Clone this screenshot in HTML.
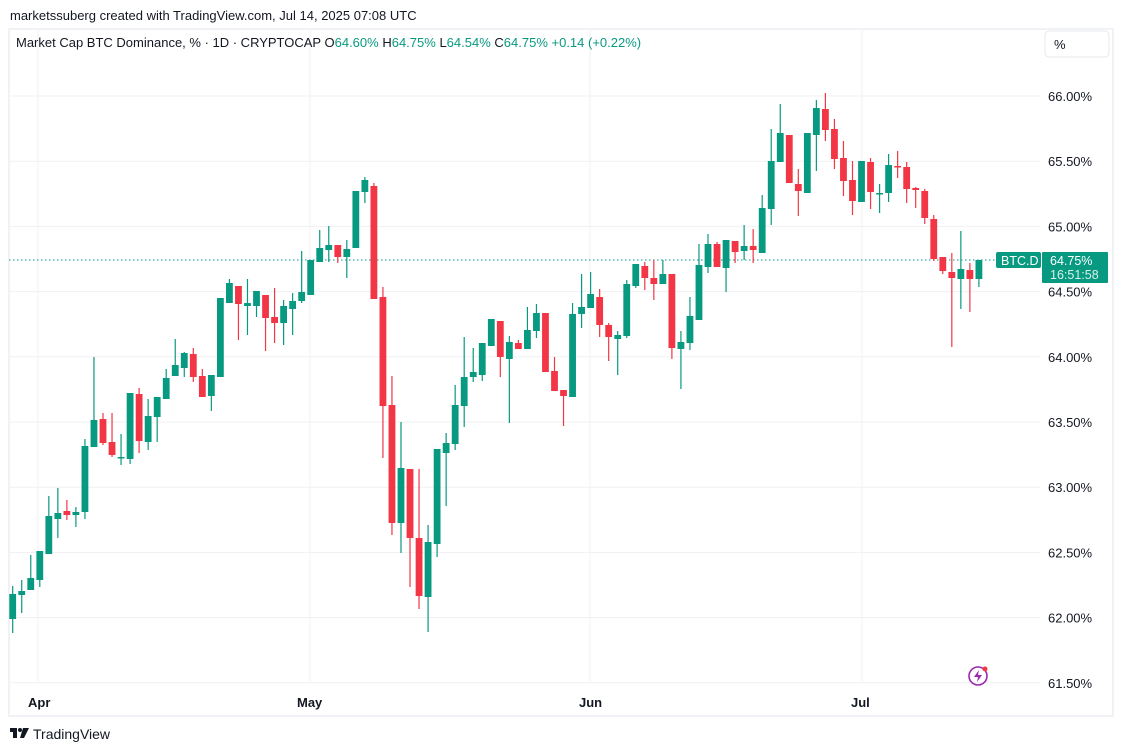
<!DOCTYPE html>
<html><head><meta charset="utf-8"><style>
body{margin:0;background:#fff;font-family:"Liberation Sans",sans-serif;}
svg{display:block}
</style></head><body>
<svg id="s" width="1123" height="751" xmlns="http://www.w3.org/2000/svg" font-family="Liberation Sans, sans-serif">
<rect width="1123" height="751" fill="#fff"/>
<text x="10" y="20" font-size="13" fill="#131722">marketssuberg created with TradingView.com, Jul 14, 2025 07:08 UTC</text>
<rect x="9" y="29" width="1104" height="687" fill="none" stroke="#eceef2" stroke-width="1.5"/>
<g id="grid" stroke="#f0f1f3" stroke-width="1"></g>
<text x="16" y="47" font-size="13" fill="#131722">Market Cap BTC Dominance, % · 1D · CRYPTOCAP <tspan fill="#131722">O</tspan><tspan fill="#089981">64.60%</tspan> <tspan fill="#131722">H</tspan><tspan fill="#089981">64.75%</tspan> <tspan fill="#131722">L</tspan><tspan fill="#089981">64.54%</tspan> <tspan fill="#131722">C</tspan><tspan fill="#089981">64.75%</tspan> <tspan fill="#089981">+0.14 (+0.22%)</tspan></text>
<rect x="1045" y="31" width="64" height="26" rx="4" fill="#fff" stroke="#e6e8ec"/>
<text x="1054" y="49" font-size="13" fill="#131722">%</text>
<g id="yl" font-size="13" fill="#131722"></g>
<g font-size="13" font-weight="bold" fill="#131722">
<text x="28" y="707">Apr</text><text x="297" y="707">May</text><text x="579" y="707">Jun</text><text x="851" y="707">Jul</text>
</g>
<line x1="9" y1="260" x2="996" y2="260" stroke="#089981" stroke-width="1" stroke-dasharray="1.5,2.5"/>
<g id="c"></g>
<rect x="996" y="252" width="45" height="16" rx="2" fill="#089981"/>
<text x="1001" y="265" font-size="12.5" fill="#fff">BTC.D</text>
<rect x="1042" y="252" width="66" height="31" rx="1" fill="#089981"/>
<text x="1050" y="265" font-size="12.5" fill="#fff">64.75%</text>
<text x="1050" y="279" font-size="12.5" fill="#d8f0e8">16:51:58</text>
<circle cx="978" cy="676" r="9" fill="none" stroke="#9c27b0" stroke-width="1.6"/>
<path d="M979 670 L974 677 L978 677 L977 682 L982 675 L978 675 Z" fill="#9c27b0"/>
<circle cx="985" cy="669" r="2.5" fill="#f23645"/>
<g transform="translate(10,728)" fill="#131722"><rect x="0" y="0" width="7" height="4"/><rect x="3" y="0" width="4" height="10"/><circle cx="10" cy="2" r="2"/><path d="M13 0 L19 0 L14 10 L10 10 Z"/></g>
<text x="33" y="739" font-size="14" fill="#131722">TradingView</text>
</svg>
<script>
var g=document.getElementById('grid'),ns='http://www.w3.org/2000/svg';
function el(p,t,a){var e=document.createElementNS(ns,t);for(var k in a)e.setAttribute(k,a[k]);p.appendChild(e);return e;}
var labs=['66.00%','65.50%','65.00%','64.50%','64.00%','63.50%','63.00%','62.50%','62.00%','61.50%'];
var yl=document.getElementById('yl');
for(var i=0;i<10;i++){var y=96+i*65.2;el(g,'line',{x1:9,x2:1040,y1:y,y2:y});var t=el(yl,'text',{x:1048,y:y+5});t.textContent=labs[i];}
[38,310,590,862].forEach(function(x){el(g,'line',{x1:x,x2:x,y1:30,y2:683});});
// o,c,h,l (pixel y), color by o>c => green
var d=[[619,594,586,633],[595,591,580,613],[590,578,555,590],[580,551,551,587],[554,516,496,554],[519,513,488,538],[511,515,500,520],[515,512,507,527],[512,446,439,519],[447,420,357,447],
[419,443,413,445],[442,455,413,457],[458,457,434,465],[459,393,393,464],[394,441,388,453],[442,416,399,450],[417,397,397,442],[399,378,369,399],[376,365,339,376],[368,353,352,377],
[354,377,348,382],[376,397,369,397],[396,375,375,411],[377,298,298,377],[303,283,279,303],[286,304,286,340],[306,303,279,335],[306,291,291,317],[295,318,295,351],[317,323,288,343],
[323,306,300,345],[309,301,293,335],[301,292,251,303],[295,260,260,295],[262,248,230,262],[250,245,226,262],[245,257,245,263],[257,249,240,278],[248,191,191,248],[192,180,177,203],
[186,299,183,299],[297,406,287,458],[405,523,376,535],[523,468,422,553],[469,538,469,587],[538,596,469,609],[597,542,525,632],[544,449,449,557],[453,443,433,506],[444,405,385,450],
[406,377,337,427],[377,372,348,382],[375,343,343,381],[346,319,319,346],[321,357,321,377],[359,342,336,423],[343,349,340,349],[349,330,307,349],[331,313,304,338],[313,372,313,372],
[371,391,357,391],[390,396,390,426],[397,314,303,397],[314,307,274,328],[308,294,272,308],[297,325,289,337],[325,337,323,361],[339,335,331,375],[336,284,280,338],[286,264,264,288],
[266,278,262,290],[278,284,260,300],[284,274,260,284],[274,348,274,359],[349,342,331,389],[343,316,297,350],[320,265,244,320],[267,244,234,273],[244,267,242,267],[268,240,240,292],
[241,252,241,263],[251,246,225,260],[246,250,229,263],[253,208,195,253],[209,161,129,225],[162,133,104,162],[135,183,135,183],[184,191,169,216],[193,133,133,193],[135,108,100,171],
[109,130,93,141],[129,159,119,169],[158,181,141,196],[180,201,161,215],[202,161,161,202],[162,192,158,209],[194,193,184,213],[193,165,154,202],[166,167,151,178],[167,189,162,203],
[188,190,187,208],[191,218,189,224],[219,259,215,261],[257,271,257,274],[272,278,253,347],[279,269,231,309],[270,279,263,312],[279,260,260,287]];
var c=document.getElementById('c');
d.forEach(function(v,i){var x=12.7+i*9.03;var up=v[0]>v[1]||(v[0]==v[1]&&i%2==0);var col=up?'#089981':'#f23645';
el(c,'line',{x1:x,x2:x,y1:v[2],y2:v[3],stroke:col,'stroke-width':1.2});
var t=Math.min(v[0],v[1]),b=Math.max(v[0],v[1]);if(b-t<1.5){b=t+1.5;}
el(c,'rect',{x:x-3.4,y:t,width:6.8,height:b-t,fill:col});});
</script>
</body></html>
